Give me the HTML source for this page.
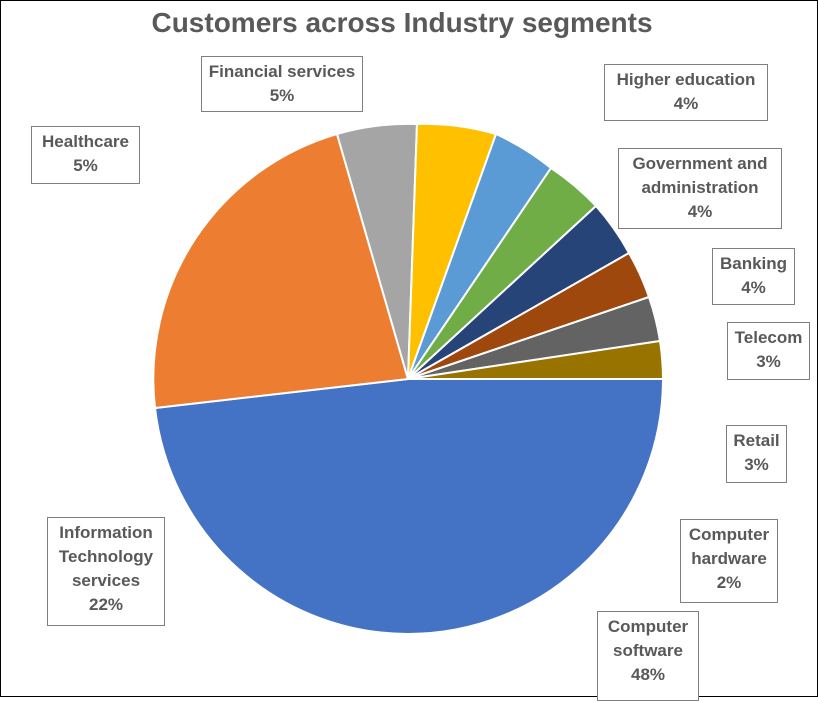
<!DOCTYPE html>
<html><head><meta charset="utf-8"><style>
body{margin:0;width:818px;height:697px;overflow:hidden;background:#fff;font-family:"Liberation Sans",sans-serif}
#f{position:absolute;left:0;top:0;width:816px;height:695px;border:1px solid #000}
.t{position:absolute;left:0;width:804px;top:7px;text-align:center;font-size:28px;font-weight:bold;color:#595959}
.l{position:absolute;box-sizing:border-box;border:1px solid #7f7f7f;background:#fff;color:#595959;font-weight:bold;font-size:17px;line-height:24px;text-align:center;padding-top:3px}
</style></head><body>
<div id="f"></div>
<div class="t">Customers across Industry segments</div>
<svg width="818" height="697" style="position:absolute;left:0;top:0">
<g stroke="#fff" stroke-width="2" stroke-linejoin="round">
<path d="M408,379 L663,379 A255,255 0 0 1 408,634 A255,255 0 0 1 155,408 Z" fill="#4472c4"/>
<path d="M408,379 L155,408 A255,255 0 0 1 337,134 Z" fill="#ed7d31"/>
<path d="M408,379 L337,134 A255,255 0 0 1 417,124 Z" fill="#a5a5a5"/>
<path d="M408,379 L417,124 A255,255 0 0 1 496,134 Z" fill="#ffc000"/>
<path d="M408,379 L496,134 A255,255 0 0 1 551,168 Z" fill="#5b9bd5"/>
<path d="M408,379 L551,168 A255,255 0 0 1 596,206 Z" fill="#70ad47"/>
<path d="M408,379 L596,206 A255,255 0 0 1 629,253 Z" fill="#264478"/>
<path d="M408,379 L629,253 A255,255 0 0 1 649,297 Z" fill="#9e480e"/>
<path d="M408,379 L649,297 A255,255 0 0 1 660,341 Z" fill="#636363"/>
<path d="M408,379 L660,341 A255,255 0 0 1 663,379 Z" fill="#997300"/>
</g></svg>
<div class="l" style="left:201px;top:56px;width:162px;height:56px">Financial services<br>5%</div>
<div class="l" style="left:604px;top:64px;width:164px;height:57px">Higher education<br>4%</div>
<div class="l" style="left:31px;top:126px;width:109px;height:58px">Healthcare<br>5%</div>
<div class="l" style="left:618px;top:148px;width:164px;height:81px">Government and<br>administration<br>4%</div>
<div class="l" style="left:712px;top:248px;width:83px;height:57px">Banking<br>4%</div>
<div class="l" style="left:727px;top:322px;width:83px;height:58px">Telecom<br>3%</div>
<div class="l" style="left:726px;top:425px;width:61px;height:58px">Retail<br>3%</div>
<div class="l" style="left:680px;top:519px;width:98px;height:84px">Computer<br>hardware<br>2%</div>
<div class="l" style="left:597px;top:611px;width:102px;height:90px">Computer<br>software<br>48%</div>
<div class="l" style="left:47px;top:517px;width:118px;height:109px">Information<br>Technology<br>services<br>22%</div>
</body></html>
